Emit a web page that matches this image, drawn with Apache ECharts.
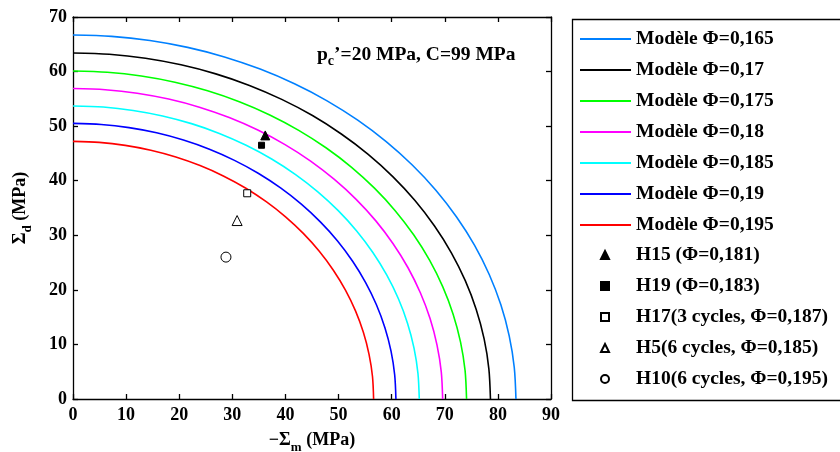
<!DOCTYPE html>
<html>
<head>
<meta charset="utf-8">
<script src="https://cdn.jsdelivr.net/npm/echarts@6/dist/echarts.min.js"></script>
<style>html,body{margin:0;padding:0;background:#fff}#c{width:840px;height:452px}</style>
</head>
<body>
<div id="c"></div>
<script>
// Model curves (x = -Sigma_m, y = Sigma_d)
const curveNames = ['Modèle Φ=0,165','Modèle Φ=0,17','Modèle Φ=0,175','Modèle Φ=0,18','Modèle Φ=0,185','Modèle Φ=0,19','Modèle Φ=0,195'];
const curveColors = ['#0080ff','#000000','#00ff00','#ff00ff','#00ffff','#0000ff','#ff0000'];
const c165x = [0,7.27,14.48,21.58,28.52,35.24,41.70,47.84,53.61,58.97,63.88,68.32,72.22,75.59,78.37,80.56,82.13,83.08,83.4];
const c165y = [66.7,66.45,65.69,64.43,62.68,60.45,57.76,54.64,51.09,47.16,42.87,38.26,33.35,28.19,22.81,17.26,11.58,5.82,0];
const c170x = [0,6.85,13.65,20.34,26.88,33.22,39.30,45.09,50.52,55.58,60.21,64.39,68.07,71.24,73.86,75.92,77.41,78.30,78.6];
const c170y = [63.4,63.16,62.44,61.24,59.58,57.46,54.90,51.94,48.56,44.83,40.75,36.37,31.70,26.79,21.68,16.41,11.01,5.53,0];
const c175x = [0,6.46,12.86,19.18,25.34,31.31,37.05,42.50,47.63,52.40,56.76,60.70,64.17,67.16,69.63,71.57,72.97,73.82,74.1];
const c175y = [60.1,59.87,59.19,58.05,56.48,54.47,52.05,49.23,46.04,42.50,38.63,34.47,30.05,25.40,20.55,15.55,10.43,5.24,0];
const c180x = [0,6.07,12.08,18.01,23.80,29.41,34.80,39.92,44.74,49.21,53.31,57.02,60.27,63.08,65.40,67.23,68.54,69.34,69.6];
const c180y = [56.9,56.68,56.04,54.96,53.47,51.57,49.28,46.61,43.59,40.23,36.58,32.64,28.45,24.05,19.46,14.73,9.88,4.96,0];
const c185x = [0,5.69,11.32,16.87,22.30,27.55,32.60,37.40,41.91,46.10,49.94,53.41,56.46,59.09,61.27,62.98,64.21,64.95,65.2];
const c185y = [53.7,53.50,52.88,51.87,50.46,48.67,46.50,43.99,41.13,37.97,34.52,30.80,26.85,22.69,18.37,13.90,9.32,4.68,0];
const c190x = [0,5.30,10.55,15.74,20.79,25.69,30.40,34.87,39.08,42.99,46.57,49.81,52.65,55.10,57.13,58.73,59.88,60.57,60.8];
const c190y = [50.5,50.31,49.73,48.78,47.45,45.77,43.73,41.37,38.68,35.71,32.46,28.97,25.25,21.34,17.27,13.07,8.77,4.40,0];
const c195x = [0,4.94,9.83,14.65,19.36,23.92,28.30,32.47,36.38,40.02,43.36,46.37,49.02,51.30,53.19,54.67,55.74,56.39,56.6];
const c195y = [47.2,47.02,46.48,45.59,44.35,42.78,40.88,38.67,36.16,33.38,30.34,27.07,23.60,19.95,16.14,12.22,8.19,4.12,0];
const curvesX = [c165x,c170x,c175x,c180x,c185x,c190x,c195x];
const curvesY = [c165y,c170y,c175y,c180y,c185y,c190y,c195y];

// Experimental points
const pointNames = ['H15 (Φ=0,181)','H19 (Φ=0,183)','H17(3 cycles, Φ=0,187)','H5(6 cycles, Φ=0,185)','H10(6 cycles, Φ=0,195)'];
const pointX = [36.2, 35.5, 32.8, 30.9, 28.8];
const pointY = [48.3, 46.5, 37.7, 32.7, 26.0];

const xTicks = [0,10,20,30,40,50,60,70,80,90];
const yTicks = [0,10,20,30,40,50,60,70];

const FONT = '"Liberation Serif","Times New Roman",serif';
const pointStyles = [
  {symbol:'triangle', size:9, fill:'#000', stroke:'#000'},
  {symbol:'rect', size:6, fill:'#000', stroke:'#000'},
  {symbol:'rect', size:7, fill:'#fff', stroke:'#000'},
  {symbol:'triangle', size:10, fill:'#fff', stroke:'#000'},
  {symbol:'circle', size:10, fill:'#fff', stroke:'#000'}
];

const series = [];
curveNames.forEach((n,i)=>{
  series.push({
    name:n, type:'line', xAxisIndex:0, yAxisIndex:0,
    data: curvesX[i].map((x,k)=>[x,curvesY[i][k]]),
    smooth:0.3, symbol:'none', showSymbol:false,
    lineStyle:{color:curveColors[i], width:1.6}, itemStyle:{color:curveColors[i]},
    animation:false, z:2
  });
});
pointNames.forEach((n,i)=>{
  const s = pointStyles[i];
  series.push({
    name:n, type:'scatter', xAxisIndex:0, yAxisIndex:0,
    data:[[pointX[i],pointY[i]]],
    symbol:s.symbol, symbolSize:s.size,
    itemStyle:{color:s.fill, borderColor:s.stroke, borderWidth:1, opacity:1},
    animation:false, z:3
  });
});

const axisLabelStyle = {fontFamily:FONT, fontWeight:'bold', fontSize:18, color:'#000'};
const lineStyle = {color:'#000', width:1.3};
const legText = {fontFamily:FONT, fontWeight:'bold', fontSize:19.5, color:'#000', lineHeight:20};
const chart = echarts.init(document.getElementById('c'), null, {renderer:'canvas'});
chart.setOption({
  backgroundColor:'#fff',
  animation:false,
  grid:{left:73, top:17, width:478, height:382, containLabel:false, outerBoundsMode:'none'},
  xAxis:[
    {type:'value', min:0, max:90, interval:10, position:'bottom',
     axisLine:{show:true, onZero:false, lineStyle}, axisTick:{show:true, inside:true, length:5, lineStyle},
     splitLine:{show:false},
     axisLabel:{...axisLabelStyle, margin:7, formatter:(v)=>xTicks.includes(v)?String(v):''},
     name:'{a|−Σ}{s|m}{a| (MPa)}', nameLocation:'middle', nameGap:28,
     nameTextStyle:{rich:{a:{fontFamily:FONT,fontWeight:'bold',fontSize:18,color:'#000'},
                          s:{fontFamily:FONT,fontWeight:'bold',fontSize:13,color:'#000',padding:[14,0,0,0]}}}},
    {type:'value', min:0, max:90, interval:10, position:'top',
     axisLine:{show:true, onZero:false, lineStyle}, axisTick:{show:true, inside:true, length:5, lineStyle},
     axisLabel:{show:false}, splitLine:{show:false}}
  ],
  yAxis:[
    {type:'value', min:0, max:70, interval:10, position:'left',
     axisLine:{show:true, onZero:false, lineStyle}, axisTick:{show:true, inside:true, length:5, lineStyle},
     splitLine:{show:false},
     axisLabel:{...axisLabelStyle, margin:6, formatter:(v)=>yTicks.includes(v)?String(v):''},
     name:'{a|Σ}{s|d}{a| (MPa)}', nameLocation:'middle', nameGap:39, nameRotate:90,
     nameTextStyle:{rich:{a:{fontFamily:FONT,fontWeight:'bold',fontSize:18,color:'#000'},
                          s:{fontFamily:FONT,fontWeight:'bold',fontSize:13,color:'#000',padding:[14,0,0,0]}}}},
    {type:'value', min:0, max:70, interval:10, position:'right',
     axisLine:{show:true, onZero:false, lineStyle}, axisTick:{show:true, inside:true, length:5, lineStyle},
     axisLabel:{show:false}, splitLine:{show:false}}
  ],
  legend:[
    {data:curveNames.map(n=>({name:n, icon:'rect'})), orient:'vertical', left:580, top:29, padding:0,
     itemWidth:51, itemHeight:2, itemGap:11,
     textStyle:legText, selectedMode:false},
    {data:pointNames, orient:'vertical', left:600, top:245, padding:0,
     itemWidth:8, itemHeight:8, itemGap:11,
     textStyle:{...legText, padding:[0,0,0,22]}, selectedMode:false}
  ],
  graphic:[
    {type:'rect', left:570, top:17, shape:{width:300, height:381}, style:{fill:'none', stroke:'#000', lineWidth:1.3}, z:-1, silent:true},
    {type:'text', left:317, top:45, style:{rich:{a:{fontFamily:FONT,fontWeight:'bold',fontSize:19.5,fill:'#000'},
       s:{fontFamily:FONT,fontWeight:'bold',fontSize:14,fill:'#000',padding:[13,0,0,0]}},
       text:'{a|p}{s|c}{a|’=20 MPa, C=99 MPa}'}}
  ],
  series
});
</script>
</body>
</html>
